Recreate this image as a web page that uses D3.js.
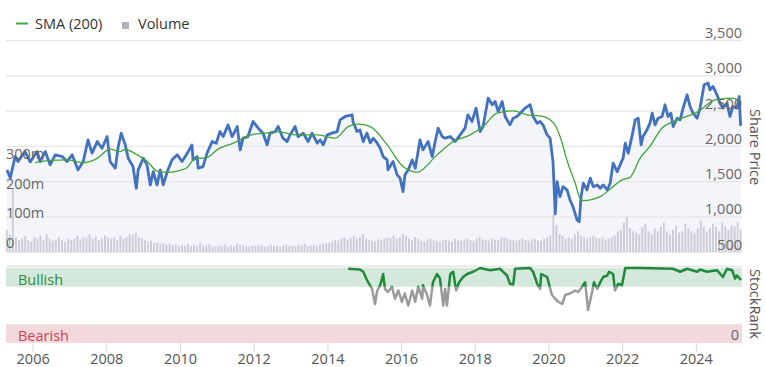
<!DOCTYPE html>
<html><head><meta charset="utf-8">
<script src="https://cdn.jsdelivr.net/npm/d3@7"></script>
<style>body{margin:0;background:#fff;} svg{display:block;font-family:"Open Sans",sans-serif;}</style>
</head><body><svg id="c" width="765" height="367"></svg>
<script>
// ---- DATA (decimal years) ----
const priceData = [[2005.29,1666],[2005.38,1552],[2005.51,1855],[2005.59,1784],[2005.78,1926],[2005.92,1780],[2006.11,1926],[2006.19,1784],[2006.33,1926],[2006.46,1737],[2006.60,1880],[2006.79,1855],[2006.92,1784],[2007.06,1880],[2007.22,1666],[2007.36,1784],[2007.49,2092],[2007.60,1903],[2007.74,2068],[2007.87,1973],[2008.01,2139],[2008.09,1784],[2008.23,1690],[2008.31,1997],[2008.39,2187],[2008.50,2021],[2008.58,1832],[2008.71,1713],[2008.80,1405],[2008.85,1666],[2008.99,1832],[2009.09,1737],[2009.18,1452],[2009.26,1642],[2009.36,1452],[2009.45,1666],[2009.53,1452],[2009.64,1642],[2009.77,1808],[2009.91,1880],[2010.04,1784],[2010.12,1850],[2010.21,1926],[2010.31,2021],[2010.34,1808],[2010.45,1855],[2010.48,1690],[2010.61,1713],[2010.72,1903],[2010.86,2068],[2010.97,2045],[2011.07,2210],[2011.16,2139],[2011.29,2305],[2011.40,2139],[2011.54,2281],[2011.62,1950],[2011.70,2116],[2011.83,2139],[2011.97,2352],[2012.11,2258],[2012.24,2187],[2012.35,2021],[2012.43,2187],[2012.57,2210],[2012.65,2281],[2012.78,2116],[2012.89,2068],[2012.97,2163],[2013.11,2281],[2013.19,2139],[2013.33,2187],[2013.46,2068],[2013.57,2187],[2013.71,2045],[2013.79,2092],[2013.87,2021],[2013.98,2163],[2014.11,2187],[2014.25,2210],[2014.33,2376],[2014.47,2424],[2014.66,2447],[2014.68,2352],[2014.79,2210],[2014.87,2234],[2014.96,2068],[2015.06,2187],[2015.15,2050],[2015.23,2116],[2015.34,2045],[2015.42,1973],[2015.50,1855],[2015.61,1808],[2015.63,1666],[2015.74,1761],[2015.77,1784],[2015.88,1595],[2015.96,1548],[2016.04,1357],[2016.09,1595],[2016.18,1666],[2016.29,1808],[2016.37,1690],[2016.50,2092],[2016.58,1950],[2016.72,2068],[2016.83,1855],[2016.91,2068],[2016.99,2258],[2017.10,2139],[2017.18,2116],[2017.32,2139],[2017.45,2068],[2017.59,2163],[2017.72,2258],[2017.80,2447],[2017.91,2352],[2018.02,2543],[2018.13,2210],[2018.21,2281],[2018.35,2685],[2018.46,2590],[2018.54,2637],[2018.62,2494],[2018.73,2637],[2018.81,2424],[2018.94,2305],[2019.03,2400],[2019.13,2424],[2019.22,2470],[2019.35,2543],[2019.49,2590],[2019.57,2424],[2019.68,2329],[2019.76,2352],[2019.84,2305],[2019.95,2163],[2020.03,2116],[2020.11,1784],[2020.17,1040],[2020.22,1500],[2020.30,1286],[2020.38,1428],[2020.49,1381],[2020.57,1239],[2020.65,1144],[2020.76,955],[2020.82,931],[2020.87,1286],[2020.93,1476],[2021.03,1381],[2021.12,1548],[2021.20,1428],[2021.31,1452],[2021.39,1405],[2021.47,1452],[2021.58,1381],[2021.66,1476],[2021.74,1761],[2021.85,1642],[2021.93,1737],[2022.01,1832],[2022.07,2045],[2022.15,1903],[2022.26,2163],[2022.34,2376],[2022.42,2400],[2022.50,2021],[2022.55,2139],[2022.66,2234],[2022.74,2329],[2022.80,2471],[2022.88,2305],[2022.96,2400],[2023.07,2424],[2023.15,2590],[2023.23,2424],[2023.31,2471],[2023.37,2281],[2023.48,2400],[2023.56,2376],[2023.64,2543],[2023.75,2732],[2023.83,2566],[2023.91,2471],[2024.02,2400],[2024.10,2543],[2024.21,2874],[2024.32,2898],[2024.37,2803],[2024.45,2850],[2024.56,2732],[2024.64,2613],[2024.72,2543],[2024.83,2613],[2024.91,2424],[2024.99,2566],[2025.10,2543],[2025.16,2708],[2025.20,2290]];

const smaData = [[2006.05,1770],[2006.46,1800],[2006.92,1808],[2007.36,1768],[2007.74,1830],[2008.09,1960],[2008.36,1926],[2008.50,1955],[2008.82,1880],[2009.09,1790],[2009.36,1650],[2009.64,1630],[2009.99,1660],[2010.18,1700],[2010.40,1830],[2010.67,1832],[2011.02,1960],[2011.43,2045],[2011.97,2170],[2012.30,2187],[2012.65,2210],[2013.11,2163],[2013.73,2163],[2014.20,2116],[2014.55,2281],[2014.82,2315],[2015.15,2281],[2015.61,2021],[2016.04,1713],[2016.42,1633],[2016.96,1879],[2017.40,2068],[2017.86,2163],[2018.21,2281],[2018.59,2471],[2019.03,2504],[2019.41,2447],[2019.84,2424],[2020.03,2376],[2020.17,2300],[2020.30,2140],[2020.52,1750],[2020.71,1480],[2020.84,1263],[2020.93,1230],[2021.39,1286],[2021.74,1428],[2021.98,1523],[2022.20,1560],[2022.47,1830],[2022.74,2000],[2023.07,2260],[2023.37,2352],[2023.61,2400],[2024.05,2494],[2024.51,2661],[2024.97,2685],[2025.19,2637]];

// monthly volume (millions), starting April 2005
const volumeStart = [2005, 3];
const volumeData = [
 75,60,212,50,40,45,55,40,35,
 50,45,55,40,60,45,38,42,50,40,35,45,
 40,45,55,42,50,48,60,45,52,40,45,55,
 48,45,50,40,55,45,50,60,58,65,50,45,
 40,35,38,30,32,28,30,25,28,22,25,20,
 25,22,28,20,25,22,30,20,22,25,18,20,
 22,20,25,18,22,20,28,25,22,20,18,22,
 20,25,22,18,20,25,22,20,18,22,25,20,
 22,20,25,22,28,20,22,25,20,25,28,30,
 30,35,40,38,45,50,42,48,55,45,50,60,
 45,40,38,35,42,40,45,50,48,55,45,50,
 60,55,45,40,50,45,38,35,42,45,40,38,
 35,40,42,38,35,45,40,38,42,45,40,38,
 45,50,42,40,38,45,42,40,48,50,45,42,
 40,38,42,45,40,38,42,45,40,38,45,50,
 55,125,90,60,55,45,50,45,60,70,55,50,
 45,50,55,48,45,50,42,45,50,55,70,75,
 100,119,80,70,65,60,85,95,70,60,80,70,
 85,100,70,60,75,90,65,70,95,80,70,65,
 80,105,85,70,80,95,85,70,100,85,75,90,
 85,100,75];

const rankData = [[2014.55,99],[2014.87,98],[2014.96,95],[2015.06,84],[2015.20,72],[2015.28,52],[2015.34,70],[2015.42,77],[2015.50,92],[2015.55,72],[2015.63,68],[2015.74,75],[2015.82,59],[2015.91,70],[2016.01,55],[2016.09,66],[2016.18,50],[2016.29,70],[2016.37,55],[2016.45,75],[2016.56,59],[2016.58,77],[2016.69,64],[2016.77,50],[2016.85,81],[2016.96,92],[2017.04,86],[2017.13,50],[2017.18,72],[2017.23,50],[2017.32,92],[2017.40,95],[2017.48,70],[2017.56,81],[2017.67,88],[2017.78,92],[2017.94,95],[2018.13,100],[2018.40,97],[2018.67,99],[2018.86,90],[2018.94,79],[2019.03,78],[2019.08,99],[2019.49,100],[2019.57,95],[2019.68,79],[2019.76,72],[2019.79,92],[2019.95,88],[2020.00,79],[2020.08,64],[2020.17,59],[2020.25,55],[2020.36,52],[2020.44,64],[2020.57,66],[2020.71,70],[2020.79,68],[2020.90,75],[2020.98,81],[2021.06,44],[2021.17,68],[2021.22,81],[2021.31,72],[2021.39,81],[2021.47,88],[2021.58,90],[2021.63,95],[2021.74,92],[2021.79,70],[2021.88,79],[2021.98,77],[2022.07,100],[2022.47,100],[2023.37,99],[2023.56,95],[2023.75,99],[2024.02,95],[2024.10,98],[2024.29,95],[2024.56,97],[2024.72,88],[2024.83,99],[2024.97,97],[2025.05,86],[2025.10,90],[2025.21,84]];

const yearTicks = [2006,2008,2010,2012,2014,2016,2018,2020,2022,2024];
const priceTicks = [500,1000,1500,2000,2500,3000,3500];
const volumeTicks = [0,100,200,300];

// ---- helpers ----
const toDate = y => { const yr = Math.floor(y); const s = Date.UTC(yr,0,1), e = Date.UTC(yr+1,0,1); return new Date(s + (y-yr)*(e-s)); };
const svg = d3.select("#c");
const L = 6, R = 742;
const x = d3.scaleUtc().domain([toDate(2005.29), toDate(2025.21)]).range([7, 741]);
const yP = d3.scaleLinear().domain([500,3500]).range([252, 40.7]);
const yV = d3.scaleLinear().domain([0,300]).range([252, 163]);
const yR = d3.scaleLinear().domain([0,100]).range([343, 268]);
const fmt = d3.format(",");

// legend
svg.append("line").attr("x1",16).attr("x2",28).attr("y1",23.5).attr("y2",23.5).attr("stroke","#3fa53a").attr("stroke-width",2);
svg.append("text").attr("x",35).attr("y",28.5).attr("font-size",14.5).attr("fill","#333").text("SMA (200)");
svg.append("rect").attr("x",122).attr("y",22).attr("width",7).attr("height",7).attr("fill","#b2b3ba");
svg.append("text").attr("x",138).attr("y",28.5).attr("font-size",14.5).attr("fill","#333").text("Volume");

// area under price
const pts = priceData.map(d => [toDate(d[0]), d[1]]);
svg.append("path").datum(pts)
  .attr("d", d3.area().x(d=>x(d[0])).y0(252).y1(d=>yP(d[1])))
  .attr("fill","#f4f5fa");

// gridlines
svg.append("g").selectAll("line").data(priceTicks).join("line")
  .attr("x1",L).attr("x2",R).attr("y1",d=>yP(d)).attr("y2",d=>yP(d))
  .attr("stroke","#e6e6e6").attr("stroke-width",1.3);

// volume bars
const vdates = volumeData.map((v,i) => [new Date(Date.UTC(volumeStart[0], volumeStart[1]+i, 1)), new Date(Date.UTC(volumeStart[0], volumeStart[1]+i+1, 1)), v]);
svg.append("g").selectAll("rect").data(vdates).join("rect")
  .attr("x", d => x(d[0]) + 0.4)
  .attr("width", d => Math.max(0.8, x(d[1]) - x(d[0]) - 1.2))
  .attr("y", d => yV(d[2]))
  .attr("height", d => yV(0) - yV(d[2]))
  .attr("fill","#cbccd3");

// price line
svg.append("path").datum(pts)
  .attr("d", d3.line().x(d=>x(d[0])).y(d=>yP(d[1])))
  .attr("fill","none").attr("stroke","#4271bf").attr("stroke-width",2.8).attr("stroke-linejoin","round");

// SMA
svg.append("path").datum(smaData.map(d=>[toDate(d[0]),d[1]]))
  .attr("d", d3.line().curve(d3.curveMonotoneX).x(d=>x(d[0])).y(d=>yP(d[1])))
  .attr("fill","none").attr("stroke","#3fa53a").attr("stroke-width",1.3);

// price axis labels (right)
svg.append("g").selectAll("text").data(priceTicks).join("text")
  .attr("x",742).attr("y",d=>yP(d)-2.5).attr("text-anchor","end")
  .attr("font-size",14.5).attr("fill","#666").text(d=>fmt(d));

// volume labels (left)
svg.append("g").selectAll("text").data(volumeTicks).join("text")
  .attr("x",6).attr("y",d=>yV(d)-4).attr("font-size",14.5).attr("fill","#666")
  .text(d => d===0 ? "0" : d + "m");

// axis titles
svg.append("text").attr("transform","translate(750,147) rotate(90)").attr("text-anchor","middle")
  .attr("font-size",14.5).attr("fill","#555").text("Share Price");
svg.append("text").attr("transform","translate(750,304) rotate(90)").attr("text-anchor","middle")
  .attr("font-size",14.5).attr("fill","#555").text("StockRank");

// StockRank panel
svg.append("line").attr("x1",L).attr("x2",R).attr("y1",266.5).attr("y2",266.5).attr("stroke","#e3e3e3").attr("stroke-width",1.3);
svg.append("rect").attr("x",L).attr("width",R-L).attr("y",yR(100)).attr("height",yR(75)-yR(100)).attr("fill","#d5e8dc");
svg.append("rect").attr("x",L).attr("width",R-L).attr("y",yR(25)).attr("height",yR(0)-yR(25)).attr("fill","#f4d9dc");
svg.append("text").attr("x",18).attr("y",285).attr("font-size",14.5).attr("fill","#2f8a3f").text("Bullish");
svg.append("text").attr("x",18).attr("y",341).attr("font-size",14.5).attr("fill","#d23f56").text("Bearish");
svg.append("text").attr("x",739).attr("y",340).attr("text-anchor","end").attr("font-size",14.5).attr("fill","#666").text("0");

const defs = svg.append("defs");
defs.append("clipPath").attr("id","cg").append("rect").attr("x",0).attr("y",255).attr("width",765).attr("height",yR(75)-255);
defs.append("clipPath").attr("id","cr").append("rect").attr("x",0).attr("y",yR(75)).attr("width",765).attr("height",345-yR(75));
const rpts = rankData.map(d=>[toDate(d[0]),d[1]]);
const rline = d3.line().x(d=>x(d[0])).y(d=>yR(d[1]));
svg.append("path").datum(rpts).attr("d",rline).attr("clip-path","url(#cr)")
  .attr("fill","none").attr("stroke","#9b9b9b").attr("stroke-width",2.5).attr("stroke-linejoin","round");
svg.append("path").datum(rpts).attr("d",rline).attr("clip-path","url(#cg)")
  .attr("fill","none").attr("stroke","#1f8a3b").attr("stroke-width",2.5).attr("stroke-linejoin","round");

// x axis
const xa = svg.append("g");
xa.selectAll("line").data(yearTicks).join("line")
  .attr("x1",d=>x(toDate(d))).attr("x2",d=>x(toDate(d))).attr("y1",343).attr("y2",352)
  .attr("stroke","#d8d8d8").attr("stroke-width",1);
xa.selectAll("text").data(yearTicks).join("text")
  .attr("x",d=>x(toDate(d))).attr("y",364).attr("text-anchor","middle")
  .attr("font-size",14.5).attr("fill","#555").text(d=>d);
</script></body></html>
